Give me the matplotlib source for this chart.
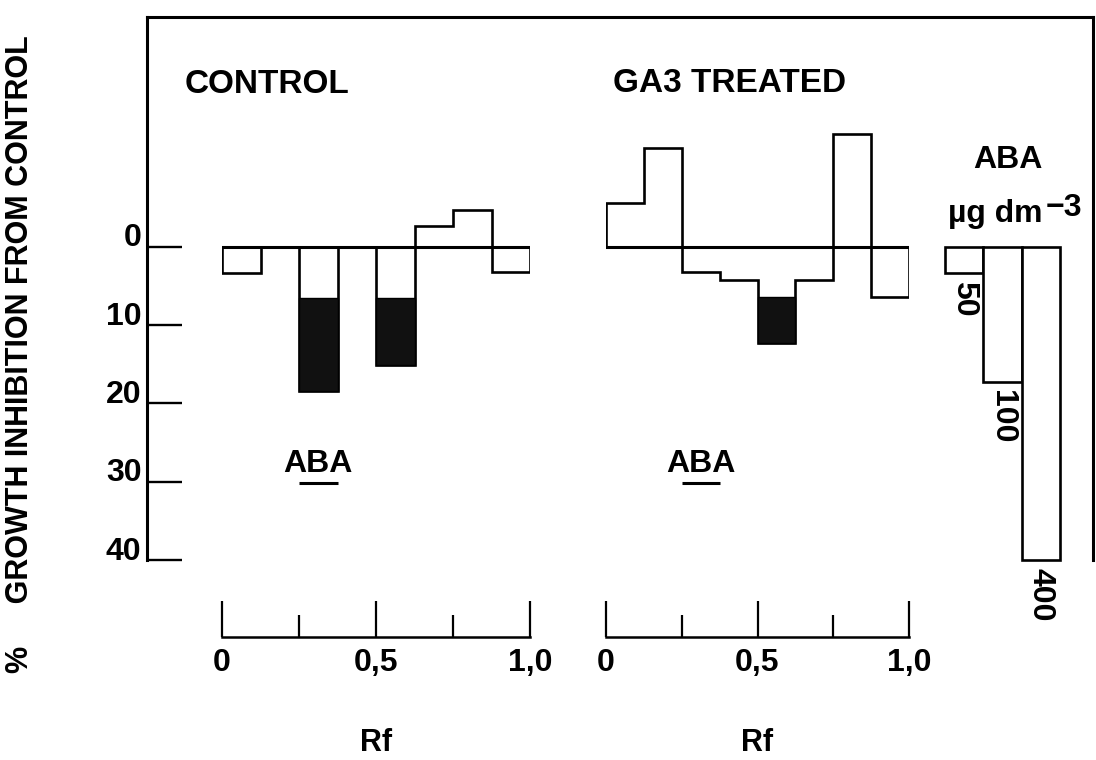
import numpy as np
import matplotlib
matplotlib.use("Agg")
import matplotlib.pyplot as plt
from matplotlib.transforms import ScaledTranslation

plt.rcParams['font.family'] = ['Liberation Sans', 'DejaVu Sans']
plt.rcParams['font.weight'] = 'bold'

# Rf bins of the chromatogram strips (eighths of the run)
rf_edges = [0.0, 0.125, 0.25, 0.375, 0.5, 0.625, 0.75, 0.875, 1.0]

# % growth inhibition from control per Rf bin (negative = promotion)
control_values = [3.3, 0.0, 18.4, 0.0, 15.1, -2.7, -4.7, 3.2]
ga3_values = [-5.6, -12.6, 3.2, 4.2, 12.3, 4.2, -14.4, 6.4]

# bins whose lower part is shaded, and the level where the shading starts
control_solid_bins = [2, 4]
control_solid_from = [6.5, 6.5]
ga3_solid_bins = [4]
ga3_solid_from = [6.4]

# ABA standards (ug dm-3) and their inhibition
aba_doses = ["50", "100", "400"]
aba_values = [3.3, 17.2, 40.0]

y_ticks = [0, 10, 20, 30, 40]
rf_ticks = [0.0, 0.5, 1.0]
rf_ticklabels = ["0", "0,5", "1,0"]
rf_minor = [0.25, 0.75]
aba_zone = (0.25, 0.375)

W, H = 1096, 760
fig = plt.figure(figsize=(W / 100, H / 100), dpi=100)

# vertical scale shared by every panel (pixel row of 0 and px per unit)
Y0_PX, PX_PER_UNIT = 247.0, 7.83


def v_at(ypx):
    return (ypx - Y0_PX) / PX_PER_UNIT


def px_axes(x0, y0, x1, y1):
    return fig.add_axes([x0 / W, 1 - y1 / H, (x1 - x0) / W, (y1 - y0) / H])


LW_FRAME = 2.2
LW_BAR = 1.9
FS_NUM = 23
FS_TITLE = 24

# ---- outer frame with the inhibition scale ----
frame = px_axes(147, 17, 1093, 560)
frame.set_ylim(v_at(560), v_at(17))
frame.set_xlim(0, 1)
frame.spines['bottom'].set_visible(False)
for s in ('left', 'top', 'right'):
    frame.spines[s].set_linewidth(LW_FRAME)
frame.set_xticks([])
frame.set_yticks(y_ticks)
frame.set_yticklabels([str(t) for t in y_ticks], fontsize=FS_NUM)
frame.tick_params(axis='y', direction='in', length=25, width=1.7, pad=4)
for lab in frame.get_yticklabels():
    lab.set_transform(lab.get_transform() + ScaledTranslation(0, 0.12, fig.dpi_scale_trans))


def strip_panel(x0, x1, values, solid_bins, solid_from):
    ax = px_axes(x0, 17, x1, 637)
    ax.patch.set_visible(False)
    ax.set_xlim(0, 1)
    ax.set_ylim(v_at(637), v_at(17))
    for s in ('left', 'top', 'right'):
        ax.spines[s].set_visible(False)
    ax.spines['bottom'].set_linewidth(1.8)
    ax.set_yticks([])
    ax.set_xticks(rf_ticks)
    ax.set_xticklabels(rf_ticklabels, fontsize=FS_NUM)
    ax.set_xticks(rf_minor, minor=True)
    ax.tick_params(axis='x', which='major', direction='in', length=26, width=1.6, pad=8)
    ax.tick_params(axis='x', which='minor', direction='in', length=16, width=1.6)
    ax.axhline(0, color='k', lw=LW_FRAME)
    ax.stairs(values, rf_edges, baseline=0, fill=False, color='k', lw=LW_BAR)
    edges = np.array(rf_edges)
    vals = np.array(values)
    b = np.array(solid_bins)
    ax.bar(edges[b], vals[b] - np.array(solid_from), bottom=solid_from,
           width=edges[b + 1] - edges[b], align='edge', color='#111111',
           edgecolor='k', lw=1.0)
    zc = sum(aba_zone) / 2
    ax.text(zc, 28.7, "ABA", ha='center', va='baseline', fontsize=FS_NUM)
    ax.hlines(30.1, aba_zone[0], aba_zone[1], color='k', lw=LW_FRAME)
    ax.set_xlabel("Rf", fontsize=FS_NUM - 1, fontweight='bold', labelpad=36)
    return ax


strip_panel(222, 530, control_values, control_solid_bins, control_solid_from)
strip_panel(606, 909, ga3_values, ga3_solid_bins, ga3_solid_from)

# ---- ABA standard responses ----
std = px_axes(945, 17, 1060, 560)
std.patch.set_visible(False)
std.set_axis_off()
std.set_xlim(0, len(aba_values))
std.set_ylim(v_at(560), v_at(17))
xs = np.arange(len(aba_values))
std.bar(xs, aba_values, width=1.0, align='edge', facecolor='white',
        edgecolor='k', lw=LW_BAR, clip_on=False)
for x, v, lab in zip(xs, aba_values, aba_doses):
    std.text(x + 0.5, v + 1.0, lab, rotation=-90, ha='center', va='top',
             fontsize=FS_NUM, clip_on=False)

# ---- titles and labels ----
fig.text(185 / W, 1 - 93 / H, "CONTROL", fontsize=FS_TITLE, va='baseline', ha='left')
fig.text(613 / W, 1 - 92 / H, "GA3 TREATED", fontsize=FS_TITLE, va='baseline', ha='left')
fig.text(1008 / W, 1 - 168 / H, "ABA", fontsize=FS_NUM, va='baseline', ha='center')
fig.text(1043 / W, 1 - 222 / H, "µg dm", fontsize=FS_NUM, va='baseline', ha='right')
fig.text(1046 / W, 1 - 216 / H, "\u22123", fontsize=FS_NUM, va='baseline', ha='left')
fig.text(20 / W, 1 - 354 / H, "%     GROWTH INHIBITION FROM CONTROL", rotation=90,
         fontsize=22, fontweight='bold', ha='center', va='center')

fig.savefig("out.png", dpi=100, facecolor='white')
